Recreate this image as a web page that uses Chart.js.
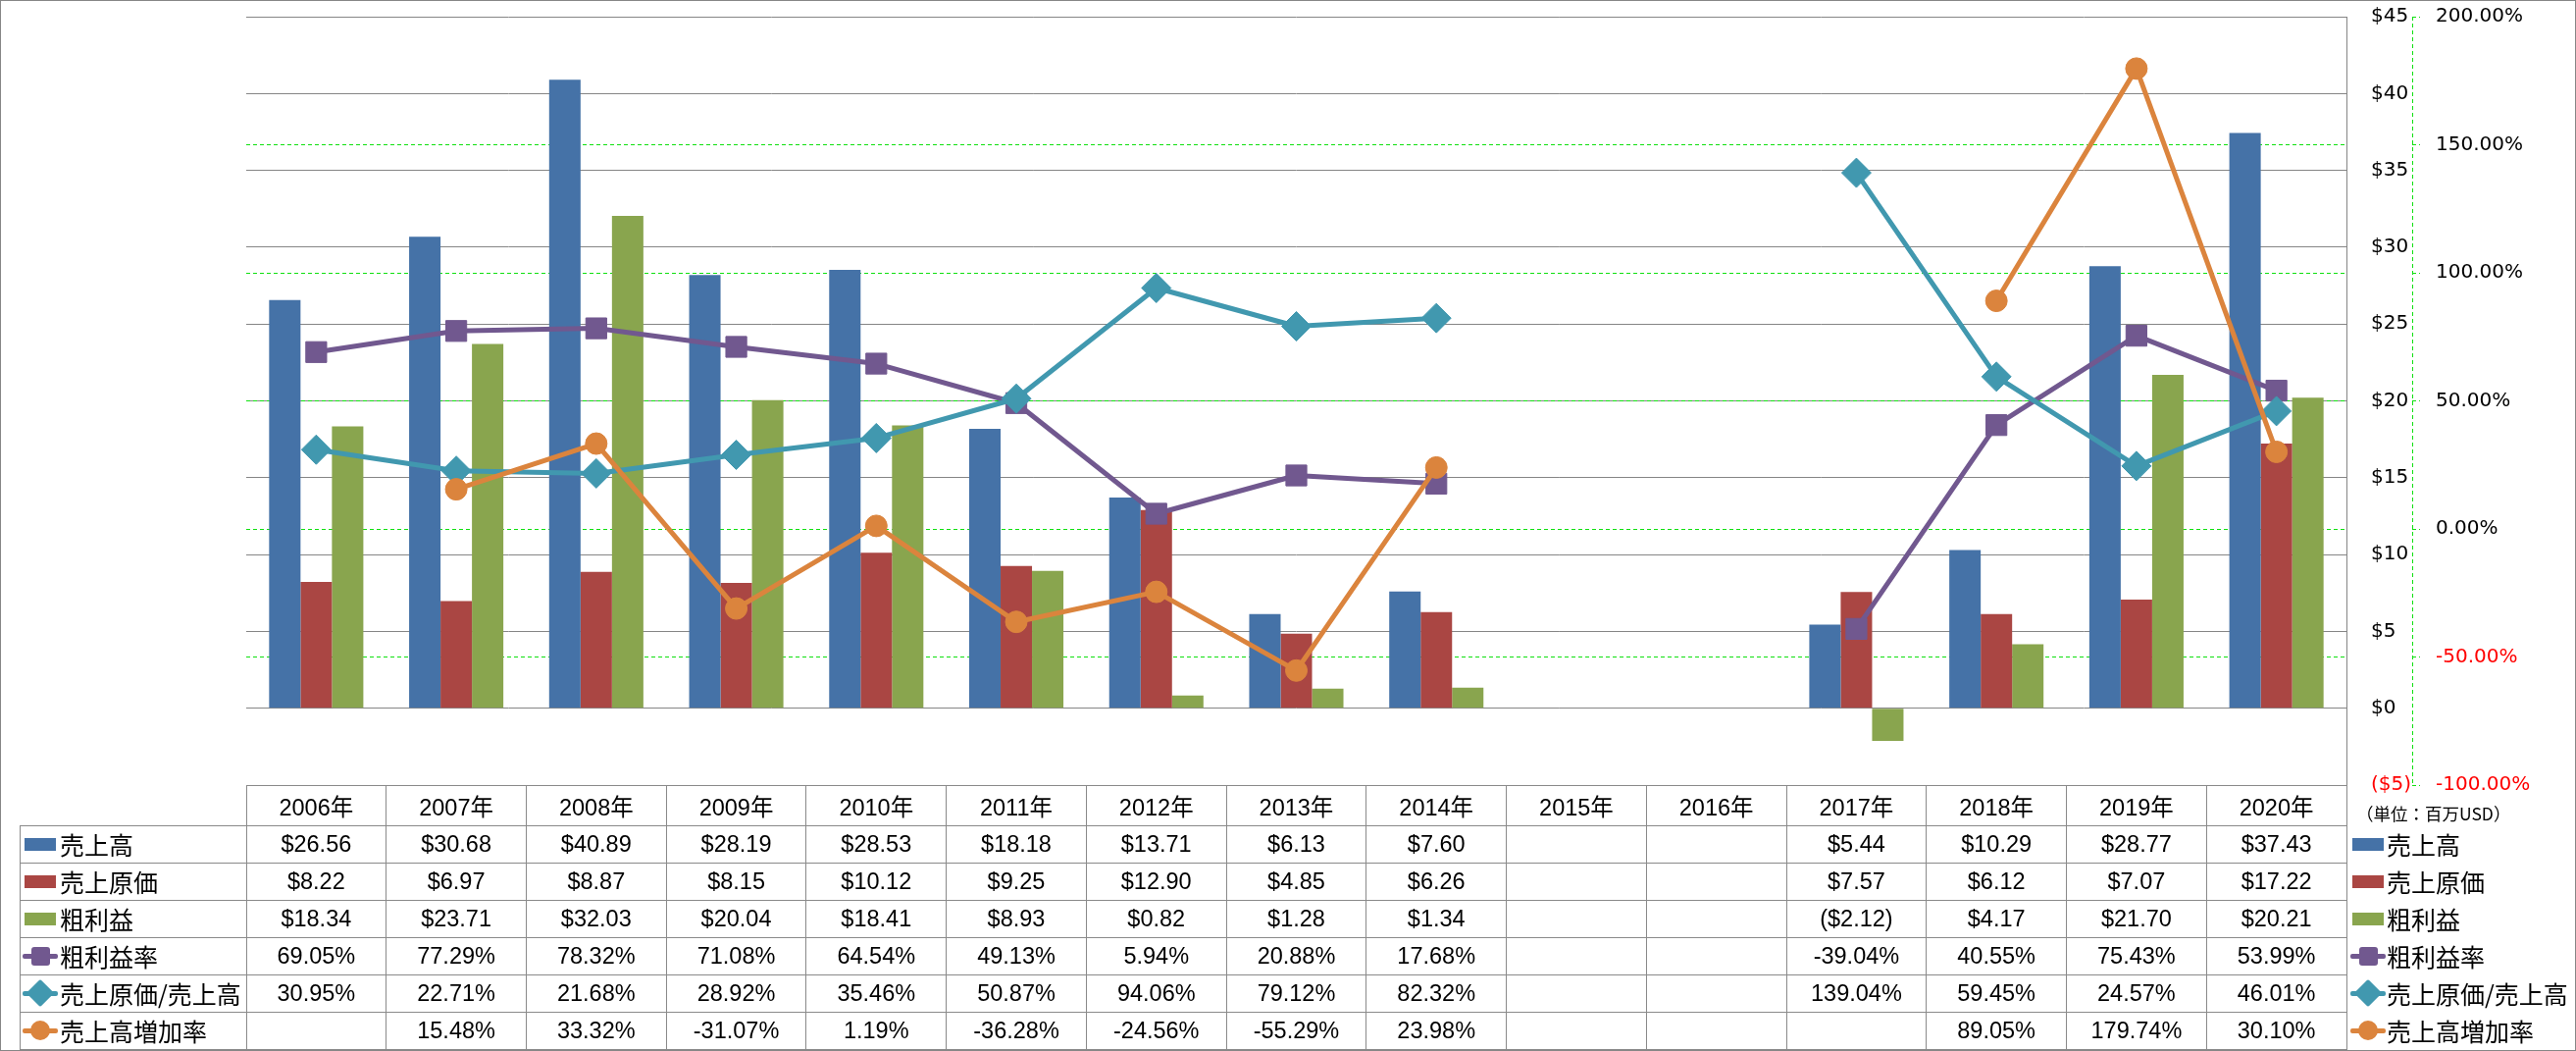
<!DOCTYPE html>
<html>
<head>
<meta charset="utf-8">
<script src="https://cdn.jsdelivr.net/npm/chart.js@4.4.1/dist/chart.umd.min.js"></script>
<style>
html,body{margin:0;padding:0;background:#fff;}
#wrap{position:relative;width:2626px;height:1071px;overflow:hidden;background:#fff;}
#c{position:absolute;left:0;top:0;}
#tbl{position:absolute;left:0;top:0;width:2626px;height:1071px;}
.cell{position:absolute;display:flex;align-items:center;justify-content:center;box-sizing:border-box;
  font-family:'Liberation Sans','Noto Sans CJK JP',sans-serif;font-size:23.5px;color:#000;white-space:nowrap;}
.lab{position:absolute;display:flex;align-items:center;box-sizing:border-box;
  font-family:'Noto Sans CJK JP',sans-serif;font-size:25px;color:#000;white-space:nowrap;}
.hl{position:absolute;background:#8a8a8a;height:1px;}
.vl{position:absolute;background:#8a8a8a;width:1px;}
.k{position:absolute;}
</style>
</head>
<body>
<div id="wrap">
<canvas id="c" width="2626" height="1071"></canvas>
<div id="tbl"></div>
</div>
<script>
// ---------- data ----------
const categories = ['2006年','2007年','2008年','2009年','2010年','2011年','2012年','2013年','2014年','2015年','2016年','2017年','2018年','2019年','2020年'];
const seriesNames = ['売上高','売上原価','粗利益','粗利益率','売上原価/売上高','売上高増加率'];
const sales        = [26.56,30.68,40.89,28.19,28.53,18.18,13.71,6.13,7.60,null,null,5.44,10.29,28.77,37.43];
const costOfSales  = [8.22,6.97,8.87,8.15,10.12,9.25,12.90,4.85,6.26,null,null,7.57,6.12,7.07,17.22];
const grossProfit  = [18.34,23.71,32.03,20.04,18.41,8.93,0.82,1.28,1.34,null,null,-2.12,4.17,21.70,20.21];
const grossMargin  = [69.05,77.29,78.32,71.08,64.54,49.13,5.94,20.88,17.68,null,null,-39.04,40.55,75.43,53.99];
const costRatio    = [30.95,22.71,21.68,28.92,35.46,50.87,94.06,79.12,82.32,null,null,139.04,59.45,24.57,46.01];
const salesGrowth  = [null,15.48,33.32,-31.07,1.19,-36.28,-24.56,-55.29,23.98,null,null,null,89.05,179.74,30.10];
const moneyMin = -5, moneyMax = 45, moneyStep = 5;
const pctMin = -100, pctMax = 200, pctStep = 50;
const unitLabel = '（単位：百万USD）';

// ---------- styles ----------
const C_BLUE = '#4572A7', C_RED = '#AA4643', C_GREEN = '#89A54E';
const C_PURPLE = '#71588F', C_TEAL = '#4198AF', C_ORANGE = '#DB843D';
const GRID_GRAY = '#868686', GRID_GREEN = '#10e010';

function fmtMoney(v){ if (v === null || v === undefined) return ''; return v < 0 ? '($' + (-v).toFixed(2) + ')' : '$' + v.toFixed(2); }
function fmtPct(v){ if (v === null || v === undefined) return ''; return v.toFixed(2) + '%'; }

const rows = [
  {name: seriesNames[0], data: sales,       color: C_BLUE,   key: 'bar',     fmt: fmtMoney},
  {name: seriesNames[1], data: costOfSales, color: C_RED,    key: 'bar',     fmt: fmtMoney},
  {name: seriesNames[2], data: grossProfit, color: C_GREEN,  key: 'bar',     fmt: fmtMoney},
  {name: seriesNames[3], data: grossMargin, color: C_PURPLE, key: 'square',  fmt: fmtPct},
  {name: seriesNames[4], data: costRatio,   color: C_TEAL,   key: 'diamond', fmt: fmtPct},
  {name: seriesNames[5], data: salesGrowth, color: C_ORANGE, key: 'circle',  fmt: fmtPct}
];

function lineDS(i, style, radius, order){
  const r = rows[i];
  return {
    type: 'line', label: r.name, data: r.data, yAxisID: 'y2', order: order,
    borderColor: r.color, backgroundColor: r.color, borderWidth: 5,
    pointStyle: style, pointRadius: radius, pointHoverRadius: radius,
    pointBackgroundColor: r.color, pointBorderColor: r.color, pointBorderWidth: 1,
    tension: 0, spanGaps: false, borderJoinStyle: 'round', borderCapStyle: 'round', fill: false
  };
}
function barDS(i){
  const r = rows[i];
  return {type: 'bar', label: r.name, data: r.data, yAxisID: 'y', order: 10,
    backgroundColor: r.color, borderWidth: 0, categoryPercentage: 0.673, barPercentage: 1.0};
}

const framePlugin = {
  id: 'frame',
  afterDraw(chart){
    const ctx = chart.ctx;
    const y2 = chart.scales.y2;
    ctx.save();
    // dashed secondary axis line
    ctx.strokeStyle = GRID_GREEN; ctx.lineWidth = 1; ctx.setLineDash([4,3]);
    ctx.beginPath();
    ctx.moveTo(Math.round(y2.left) + 0.5, y2.top);
    ctx.lineTo(Math.round(y2.left) + 0.5, y2.bottom);
    ctx.stroke();
    // outer frame
    ctx.setLineDash([]);
    ctx.strokeStyle = GRID_GRAY; ctx.lineWidth = 1;
    ctx.strokeRect(0.5, 0.5, chart.width - 1, chart.height - 1);
    ctx.restore();
  }
};

const chart = new Chart(document.getElementById('c'), {
  type: 'bar',
  data: {
    labels: categories,
    datasets: [barDS(0), barDS(1), barDS(2),
      lineDS(3, 'rect', 15, 2), lineDS(4, 'rectRot', 15, 1), lineDS(5, 'circle', 11, 0)]
  },
  options: {
    responsive: false, animation: false, devicePixelRatio: 1,
    layout: {padding: {left: 251, top: 17, right: 0, bottom: 271}},
    plugins: {legend: {display: false}, tooltip: {enabled: false}, title: {display: false}},
    scales: {
      x: {type: 'category', display: false, offset: true, grid: {display: false}},
      y: {
        position: 'right', weight: 0, min: moneyMin, max: moneyMax,
        afterFit(s){ s.width = 67; s.paddingTop = 0; s.paddingBottom = 0; },
        ticks: {stepSize: moneyStep, padding: 25, font: {family: 'DejaVu Sans', size: 20},
          color: (c) => c.tick && c.tick.value < 0 ? '#ff0000' : '#000000',
          callback: (v) => v < 0 ? '($' + (-v) + ')' : '$' + v},
        grid: {color: GRID_GRAY, lineWidth: 1, drawTicks: false},
        border: {display: true, color: GRID_GRAY, width: 1}
      },
      y2: {
        position: 'right', weight: 1, min: pctMin, max: pctMax,
        afterFit(s){ s.width = 167; s.paddingTop = 0; s.paddingBottom = 0; },
        ticks: {stepSize: pctStep, padding: 16, font: {family: 'DejaVu Sans', size: 20},
          color: (c) => c.tick && c.tick.value < 0 ? '#ff0000' : '#000000',
          callback: (v) => Number(v).toFixed(2) + '%'},
        grid: {drawTicks: true, tickLength: 8, lineWidth: 1, tickColor: GRID_GREEN, tickWidth: 1,
          tickBorderDash: [4,3],
          color: (c) => (c.tick && (c.tick.value === pctMax || c.tick.value === pctMin)) ? 'rgba(0,0,0,0)' : GRID_GREEN},
        border: {display: false, dash: [4,3]}
      }
    }
  },
  plugins: [framePlugin]
});

// ---------- data table (HTML text) ----------
function buildTable(){
  const tbl = document.getElementById('tbl');
  const area = chart.chartArea;
  const n = categories.length;
  const colW = (area.right - area.left) / n;
  const top = Math.round(area.bottom);
  const headH = 41, rowH = 38;
  const legendLeft = 20;
  const bottom = top + headH + rows.length * rowH;
  const add = (cls, st, txt) => {
    const d = document.createElement('div'); d.className = cls;
    Object.assign(d.style, st);
    if (txt !== undefined) d.textContent = txt;
    tbl.appendChild(d); return d;
  };
  const px = (v) => v + 'px';
  // horizontal lines
  add('hl', {left: px(Math.floor(area.left)), top: px(top), width: px(Math.round(area.right - area.left) + 1)});
  for (let k = 0; k <= rows.length; k++) {
    const y = top + headH + k * rowH;
    add('hl', {left: px(legendLeft), top: px(y), width: px(Math.round(area.right) - legendLeft + 1)});
  }
  // vertical lines
  for (let i = 0; i <= n; i++) {
    const x = Math.floor(area.left + i * colW);
    add('vl', {left: px(x), top: px(top), height: px(bottom - top + 1)});
  }
  add('vl', {left: px(legendLeft), top: px(top + headH), height: px(bottom - top - headH + 1)});
  // header
  for (let i = 0; i < n; i++) {
    add('cell', {left: px(area.left + i * colW), top: px(top), width: px(colW), height: px(headH)}, categories[i]);
  }
  // body
  rows.forEach((r, k) => {
    const y = top + headH + k * rowH;
    for (let i = 0; i < n; i++) {
      add('cell', {left: px(area.left + i * colW), top: px(y), width: px(colW), height: px(rowH)}, r.fmt(r.data[i]));
    }
    const mid = y + rowH / 2;
    [[41, 61], [Math.round(area.right) + 22, Math.round(area.right) + 41]].forEach(([cx, tx]) => {
      drawKey(add, r, cx, mid);
      add('lab', {left: px(tx), top: px(y), height: px(rowH)}, r.name);
    });
  });
  // unit label
  add('lab', {left: px(Math.round(area.right) + 10), top: px(top + 17), height: px(22), fontSize: '17.5px'}, unitLabel);
}
function drawKey(add, r, cx, mid){
  const px = (v) => v + 'px';
  if (r.key === 'bar') {
    add('k', {left: px(cx - 16), top: px(mid - 6.5), width: '32px', height: '13px', background: r.color});
    return;
  }
  add('k', {left: px(cx - 18), top: px(mid - 2.5), width: '36px', height: '5px', background: r.color, borderRadius: '2px'});
  if (r.key === 'square') {
    add('k', {left: px(cx - 9.5), top: px(mid - 9.5), width: '19px', height: '19px', background: r.color, borderRadius: '3px'});
  } else if (r.key === 'diamond') {
    add('k', {left: px(cx - 10), top: px(mid - 10), width: '20px', height: '20px', background: r.color, borderRadius: '2px', transform: 'rotate(45deg)'});
  } else {
    add('k', {left: px(cx - 10), top: px(mid - 10), width: '20px', height: '20px', background: r.color, borderRadius: '50%'});
  }
}
buildTable();
</script>
</body>
</html>
